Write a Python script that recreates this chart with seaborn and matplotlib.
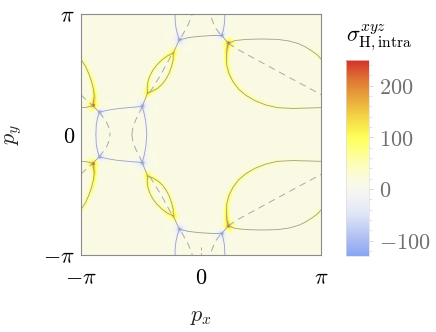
import numpy as np
import pandas as pd
import seaborn as sns
import matplotlib
matplotlib.use("Agg")
import matplotlib.pyplot as plt
from matplotlib.colors import LinearSegmentedColormap
from matplotlib.ticker import MultipleLocator

sns.set_theme(style="white")
plt.rcParams["mathtext.fontset"] = "cm"
plt.rcParams["font.family"] = ["DejaVu Serif"]

PI = np.pi
N = 240
BG = 14.0
VMIN, VMAX = -130, 250

# ---------------- data (upper half, py > 0) -------------
red_px = [-2.82, 0.72]
red_py = [0.75, 2.38]
red_val = [250, 250]
blue_px = [-2.65, -1.53, -0.56, 0.55]
blue_py = [0.58, 0.73, 2.47, 2.58]
blue_val = [-140, -140, -140, -140]
tip_px = [-1.39, -0.72]
tip_py = [1.08, 2.12]
tip_val = [125, 125]

lobe_top = [(0.72, 2.38), (0.90, 2.45), (1.20, 2.48), (1.59, 2.49), (2.00, 2.48), (2.30, 2.44),
            (2.55, 2.37), (2.72, 2.29), (2.90, 2.18), (3.05, 2.07), (3.16, 1.95), (3.27, 1.78),
            (3.36, 1.58), (3.43, 1.38), (3.48, 1.18), (3.50, 1.00), (3.48, 0.86), (3.46, 0.75)]
lobe_top_amp = [60, 25, 5, 0, 0, 0, 5, 15, 25, 35, 45, 55, 65, 75, 90, 110, 135, 160]
lobe_bot = [(0.72, 2.38), (0.68, 2.21), (0.67, 2.00), (0.68, 1.80), (0.74, 1.58), (0.84, 1.38),
            (0.99, 1.18), (1.18, 1.02), (1.42, 0.88), (1.70, 0.77), (2.00, 0.70), (2.40, 0.68),
            (2.80, 0.69), (3.16, 0.70), (3.30, 0.71), (3.46, 0.75)]
lobe_bot_amp = [160, 125, 100, 85, 75, 65, 60, 55, 50, 42, 35, 25, 15, 10, 10, 40]
red_blue = [(-2.82, 0.75), (-2.65, 0.58)]
red_blue_amp = [150, -60]
box_top = [(-2.65, 0.58), (-2.45, 0.63), (-2.20, 0.67), (-1.90, 0.70), (-1.53, 0.73)]
box_top_amp = [-50, -10, 0, -10, -50]
box_left = [(-2.65, 0.58), (-2.70, 0.42), (-2.73, 0.25), (-2.74, 0.0)]
box_left_amp = [-70, -40, -25, -20]
box_right = [(-1.53, 0.73), (-1.48, 0.55), (-1.44, 0.35), (-1.42, 0.15), (-1.41, 0.0)]
box_right_amp = [-70, -40, -25, -20, -20]
blue_lens = [(-1.53, 0.73), (-1.39, 1.08)]
blue_lens_amp = [-60, 110]
lens_left = [(-1.39, 1.08), (-1.40, 1.22), (-1.38, 1.38), (-1.33, 1.53), (-1.25, 1.68),
             (-1.14, 1.82), (-1.01, 1.95), (-0.87, 2.05), (-0.72, 2.12)]
lens_left_amp = [115, 85, 65, 55, 50, 55, 65, 85, 115]
lens_right = [(-1.39, 1.08), (-1.26, 1.13), (-1.12, 1.21), (-1.00, 1.32), (-0.90, 1.46),
              (-0.82, 1.61), (-0.76, 1.79), (-0.72, 1.95), (-0.72, 2.12)]
lens_right_amp = [115, 85, 65, 55, 50, 55, 65, 85, 115]
lens_blue = [(-0.72, 2.12), (-0.56, 2.47)]
lens_blue_amp = [110, -60]
top_left = [(-0.56, 2.47), (-0.61, 2.62), (-0.65, 2.80), (-0.67, 3.00), (-0.67, PI)]
top_left_amp = [-70, -40, -25, -15, -15]
top_mid = [(-0.56, 2.47), (-0.30, 2.53), (-0.02, 2.56), (0.30, 2.58), (0.55, 2.58)]
top_mid_amp = [-50, -5, 10, -5, -50]
top_right = [(0.55, 2.58), (0.59, 2.72), (0.62, 2.90), (0.63, PI)]
top_right_amp = [-70, -40, -20, -15]
blue_red = [(0.55, 2.58), (0.72, 2.38)]
blue_red_amp = [-60, 150]

dash_lobe = [(0.72, 2.38), (0.98, 2.21), (2.03, 1.64), (3.16, 1.03), (3.26, 0.93), (3.46, 0.75)]
dash_lens = [(-1.33, 1.10), (-1.05, 1.55), (-0.76, 2.08)]
dash_box_left = [(-2.65, 0.58), (-2.55, 0.45), (-2.45, 0.30), (-2.39, 0.15), (-2.37, 0.0)]
dash_box_right = [(-1.53, 0.73), (-1.60, 0.57), (-1.69, 0.40), (-1.77, 0.20), (-1.80, 0.0)]
dash_top_left = [(-0.50, 2.55), (-0.32, 2.88), (-0.22, PI)]
dash_top_right = [(0.50, 2.62), (0.37, 2.80), (0.24, PI)]
dash_bottom_mid = [(0.0, -2.92), (0.0, -PI)]

yellow_lines = [(lobe_top, lobe_top_amp), (lobe_bot, lobe_bot_amp), (red_blue, red_blue_amp),
                (blue_lens, blue_lens_amp), (lens_left, lens_left_amp),
                (lens_right, lens_right_amp), (lens_blue, lens_blue_amp),
                (top_mid, top_mid_amp), (blue_red, blue_red_amp)]
blue_lines = [(box_top, box_top_amp), (box_left, box_left_amp), (box_right, box_right_amp),
              (top_left, top_left_amp), (top_right, top_right_amp)]
dashed_lines = [dash_lobe, dash_lens, dash_box_left, dash_box_right, dash_top_left, dash_top_right]

tick_pos = [-PI, 0, PI]
tick_labels = [r"$-\pi$", r"$0$", r"$\pi$"]
cbar_ticks = [-100, 0, 100, 200]

cmap_vals = [-130, -90, -50, -15, 0, 15, 50, 100, 140, 175, 210, 250]
cmap_cols = ["#8aa5f2", "#b4c3f3", "#dfe5f7", "#f3f3f3", "#f7f7ee", "#fafae4",
             "#fdfdb5", "#ffff58", "#f4d545", "#e9a83c", "#e07a34", "#d4312a"]


def mirror(pts):
    return [(x, -y) for x, y in pts]


# ---------------- field -------------
g = -PI + (np.arange(N) + 0.5) * 2 * PI / N
PX, PY = np.meshgrid(g, g[::-1])


def wrap(a):
    return (a + PI) % (2 * PI) - PI


pos = np.zeros_like(PX)
neg = np.zeros_like(PX)


def add_line(pts, amps, sigma):
    global pos, neg
    for (x0, y0), (x1, y1), a0, a1 in zip(pts[:-1], pts[1:], amps[:-1], amps[1:]):
        dx = wrap(PX - x0)
        dy = wrap(PY - y0)
        ex, ey = x1 - x0, y1 - y0
        L2 = ex * ex + ey * ey
        t = np.clip((dx * ex + dy * ey) / L2, 0, 1)
        d2 = (dx - t * ex) ** 2 + (dy - t * ey) ** 2
        a = a0 + t * (a1 - a0)
        v = a * np.exp(-d2 / (2 * sigma ** 2))
        pos = np.maximum(pos, v)
        neg = np.minimum(neg, v)


def add_spot(x0, y0, a, sigma):
    global pos, neg
    d2 = wrap(PX - x0) ** 2 + wrap(PY - y0) ** 2
    v = a * np.exp(-d2 / (2 * sigma ** 2))
    pos = np.maximum(pos, v)
    neg = np.minimum(neg, v)


for pts, amps in yellow_lines:
    add_line(pts, amps, 0.05)
    add_line(mirror(pts), amps, 0.05)
for pts, amps in blue_lines:
    add_line(pts, amps, 0.04)
    add_line(mirror(pts), amps, 0.04)
for s in (1, -1):
    for x, y, v in zip(red_px, red_py, red_val):
        add_spot(x, s * y, v, 0.045)
        add_spot(x, s * y, 0.5 * v, 0.1)
    for x, y, v in zip(blue_px, blue_py, blue_val):
        add_spot(x, s * y, v, 0.05)
        add_spot(x, s * y, 0.45 * v, 0.1)
    for x, y, v in zip(tip_px, tip_py, tip_val):
        add_spot(x, s * y, v, 0.07)

field = BG + pos + neg
df = pd.DataFrame(field)

# ---------------- plot -------------
cmap = LinearSegmentedColormap.from_list(
    "sig", [((v - VMIN) / (VMAX - VMIN), c) for v, c in zip(cmap_vals, cmap_cols)])

fig = plt.figure(figsize=(4.36, 3.32), dpi=100)
ax = fig.add_axes([80.5 / 436, 1 - 255 / 332, 240.5 / 436, 241 / 332])
cax = fig.add_axes([346 / 436, 1 - 256 / 332, 23 / 436, 196 / 332])

sns.heatmap(df, ax=ax, cmap=cmap, vmin=VMIN, vmax=VMAX, cbar_ax=cax,
            xticklabels=False, yticklabels=False, rasterized=True)


def to_idx(pts, shift=0.0):
    xs = [(x + shift + PI) / (2 * PI) * N for x, y in pts]
    ys = [(PI - y) / (2 * PI) * N for x, y in pts]
    return xs, ys


for group, col in ((yellow_lines, "#9c9c98"), (blue_lines, "#9aa2bf")):
    for pts, _ in group:
        for P in (pts, mirror(pts)):
            for sh in (-2 * PI, 0.0):
                xs, ys = to_idx(P, sh)
                ax.plot(xs, ys, color=col, lw=0.6, solid_capstyle="round",
                        solid_joinstyle="round")
for pts in dashed_lines:
    for P in (pts, mirror(pts)):
        for sh in (-2 * PI, 0.0):
            xs, ys = to_idx(P, sh)
            ax.plot(xs, ys, color="#a8a8a8", lw=0.7, dashes=(7, 5))
xs, ys = to_idx(dash_bottom_mid)
ax.plot(xs, ys, color="#a8a8a8", lw=0.7, dashes=(3, 3))

ax.set_xlim(0, N)
ax.set_ylim(N, 0)
for sp in ax.spines.values():
    sp.set_visible(True)
    sp.set_color("#8a8a8a")
    sp.set_linewidth(0.8)
ax.set_xticks([(t + PI) / (2 * PI) * N for t in tick_pos])
ax.set_xticklabels(tick_labels)
ax.set_yticks([(PI - t) / (2 * PI) * N for t in tick_pos])
ax.set_yticklabels(tick_labels, rotation=0)
ax.tick_params(axis="both", direction="in", length=4, width=0.6, color="#8a8a8a",
               labelsize=16, labelcolor="black", bottom=True, left=True)
ax.tick_params(axis="x", pad=9)
ax.tick_params(axis="y", pad=4)
ax.set_xlabel(r"$p_x$", fontsize=16, labelpad=11)
ax.set_ylabel(r"$p_y$", fontsize=16, labelpad=14)

cb = ax.collections[0].colorbar
cb.set_ticks(cbar_ticks)
cb.set_ticklabels([r"$%d$" % t for t in cbar_ticks])
cax.yaxis.set_minor_locator(MultipleLocator(20))
cax.tick_params(which="major", length=3, width=0.6, color="#d0d0d0",
                labelsize=16, labelcolor="#707070", pad=4, right=True)
cax.tick_params(which="minor", length=2, width=0.5, color="#d8d8d8", right=True)
cb.outline.set_visible(True)
cb.outline.set_linewidth(0.5)
cb.outline.set_edgecolor("#dddddd")

fig.text(346 / 436, 1 - 41 / 332, r"$\sigma^{xyz}_{\mathrm{H,intra}}$", fontsize=16,
         ha="left", va="baseline", color="black")

fig.savefig("out.png", dpi=100)
